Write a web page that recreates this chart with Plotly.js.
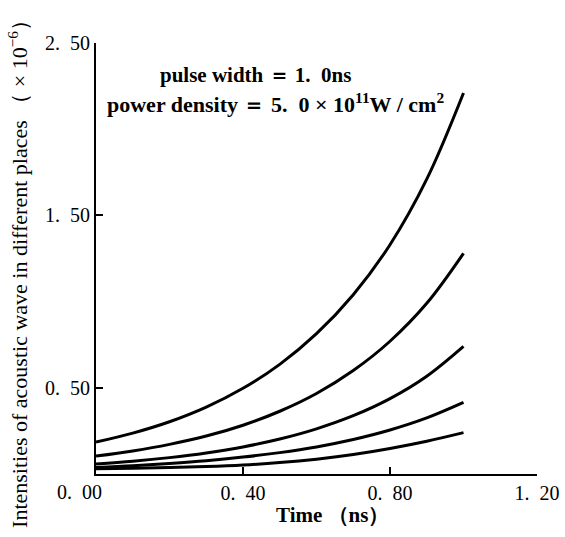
<!DOCTYPE html>
<html>
<head>
<meta charset="utf-8">
<script src="https://cdn.plot.ly/plotly-3.0.1.min.js"></script>
<style>html,body{margin:0;padding:0;background:#fff;}#chart{width:565px;height:537px;}</style>
</head>
<body>
<div id="chart"></div>
<script>
// Time (ns)
const time = [0, 0.1, 0.2, 0.3, 0.4, 0.5, 0.6, 0.7, 0.8, 0.9, 1.0];
// Intensities (x10^-6), five places, top to bottom
const place1 = [0.185, 0.237, 0.303, 0.388, 0.497, 0.636, 0.814, 1.04, 1.33, 1.71, 2.21];
const place2 = [0.104, 0.134, 0.172, 0.22, 0.283, 0.364, 0.467, 0.60, 0.77, 0.99, 1.28];
const place3 = [0.058, 0.074, 0.095, 0.122, 0.157, 0.203, 0.262, 0.338, 0.437, 0.567, 0.74];
const place4 = [0.038, 0.048, 0.061, 0.077, 0.098, 0.124, 0.157, 0.20, 0.255, 0.325, 0.415];
const place5 = [0.030, 0.033, 0.037, 0.043, 0.052, 0.066, 0.086, 0.113, 0.148, 0.19, 0.24];
const series = [place1, place2, place3, place4, place5];

const xTickVals = [0.4, 0.8, 1.2];
const xTickText = ['0.\u200240', '0.\u200280', '1.\u200220'];
const yTickVals = [0.5, 1.5, 2.5];
const yTickText = ['0.\u200250', '1.\u200250', '2.\u200250'];
const originLabel = '0.\u200200';

const FONT = 'Liberation Serif, Times New Roman, serif';

const traces = series.map(s => ({
  x: time, y: s, type: 'scatter', mode: 'lines',
  line: {color: '#000', width: 3, shape: 'spline'},
  hoverinfo: 'skip', showlegend: false
}));

const layout = {
  width: 565, height: 537,
  margin: {l: 96, r: 28, t: 43, b: 63},
  paper_bgcolor: '#fff', plot_bgcolor: '#fff',
  font: {family: FONT, color: '#000', size: 20},
  showlegend: false,
  xaxis: {
    range: [0, 1.2], tickvals: xTickVals, ticktext: xTickText,
    ticks: 'inside', ticklen: 7, tickwidth: 2, tickcolor: '#000',
    showline: true, linecolor: '#000', linewidth: 2,
    showgrid: false, zeroline: false,
    tickfont: {family: FONT, size: 20, color: '#000'}
  },
  yaxis: {
    range: [0, 2.5], tickvals: yTickVals, ticktext: yTickText,
    ticks: 'inside', ticklen: 7, tickwidth: 2, tickcolor: '#000',
    showline: true, linecolor: '#000', linewidth: 2,
    showgrid: false, zeroline: false,
    tickfont: {family: FONT, size: 20, color: '#000'}
  },
  annotations: [
    {xref: 'paper', yref: 'paper', x: -0.0385, y: 0, xanchor: 'center', yanchor: 'top', yshift: -5,
     text: originLabel, showarrow: false, font: {family: FONT, size: 20, color: '#000'}},
    {xref: 'paper', yref: 'paper', x: 0.537, y: -0.095, xanchor: 'center', yanchor: 'middle',
     text: '<b>Time （ns）</b>', showarrow: false, font: {family: FONT, size: 21, color: '#000'}},
    {xref: 'paper', yref: 'paper', x: -0.177, y: 0.478, xanchor: 'center', yanchor: 'middle', textangle: -90,
     text: 'Intensities of acoustic wave in different places （ × 10<sup>−6</sup>）', showarrow: false,
     font: {family: FONT, size: 22, color: '#000'}},
    {xref: 'paper', yref: 'paper', x: 0.141, y: 0.926, xanchor: 'left', yanchor: 'middle',
     text: '<b>pulse width ＝ 1.  0ns</b>', showarrow: false, font: {family: FONT, size: 21, color: '#000'}},
    {xref: 'paper', yref: 'paper', x: 0.02, y: 0.861, xanchor: 'left', yanchor: 'middle',
     text: '<b>power density ＝ 5.  0 × 10<sup>11</sup>W / cm<sup>2</sup></b>', showarrow: false,
     font: {family: FONT, size: 22, color: '#000'}}
  ]
};

Plotly.newPlot('chart', traces, layout, {staticPlot: true, displayModeBar: false});
</script>
</body>
</html>
